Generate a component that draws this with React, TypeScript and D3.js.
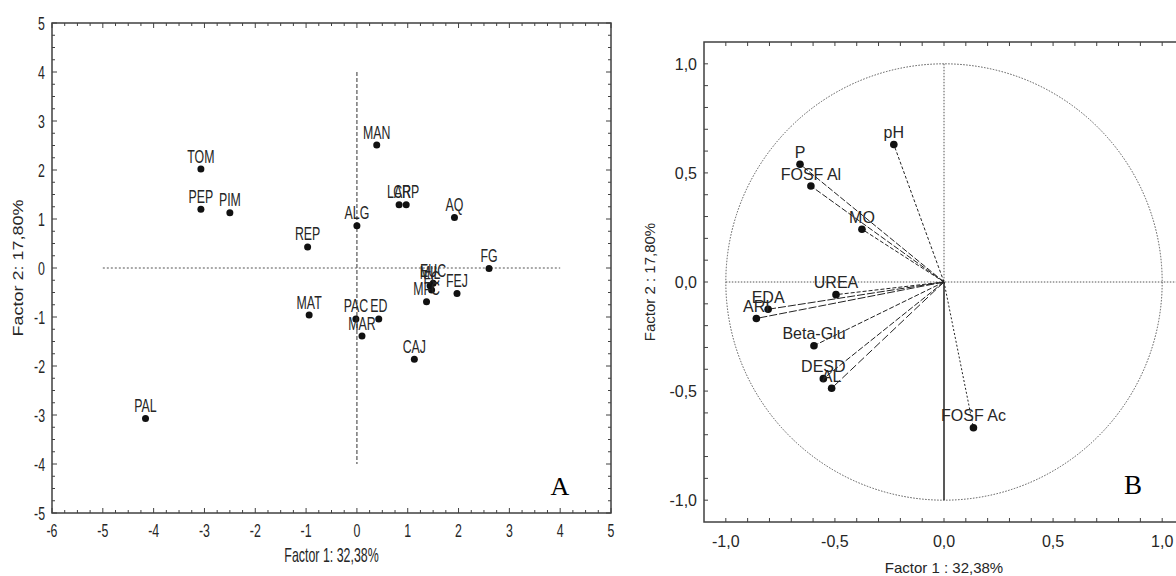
import React from "react";
import * as d3 from "d3";

// ---- Panel A data (scores) ----
const scoreLabels = ["TOM", "PEP", "PIM", "REP", "ALG", "MAN", "LAR", "CRP", "AQ", "FG", "EUC", "MIL", "FC", "MFC", "FEJ", "MAT", "PAC", "ED", "MAR", "CAJ", "PAL"];
const scoreF1 = [-3.07, -3.07, -2.5, -0.97, 0.0, 0.39, 0.83, 0.97, 1.92, 2.6, 1.5, 1.44, 1.47, 1.37, 1.97, -0.94, -0.02, 0.43, 0.1, 1.13, -4.16];
const scoreF2 = [2.02, 1.2, 1.13, 0.43, 0.86, 2.51, 1.29, 1.29, 1.03, -0.01, -0.31, -0.36, -0.45, -0.69, -0.52, -0.96, -1.04, -1.04, -1.39, -1.86, -3.07];
const aXTicks = [-6, -5, -4, -3, -2, -1, 0, 1, 2, 3, 4, 5];
const aYTicks = [5, 4, 3, 2, 1, 0, -1, -2, -3, -4, -5];

// ---- Panel B data (loadings) ----
const varLabels = ["pH", "P", "FOSF Al", "MO", "UREA", "EDA", "ARI", "Beta-Glu", "DESD", "AL", "FOSF Ac"];
const varF1 = [-0.23, -0.66, -0.61, -0.376, -0.495, -0.806, -0.86, -0.596, -0.553, -0.515, 0.135];
const varF2 = [0.63, 0.54, 0.44, 0.242, -0.058, -0.125, -0.167, -0.292, -0.443, -0.487, -0.668];
const bTicks = [-1.0, -0.5, 0.0, 0.5, 1.0];
const bTickText = ["-1,0", "-0,5", "0,0", "0,5", "1,0"];

const vecDash = ["3,2", "6,2", "6,2", "4,2", "4,2", "8,2", "8,2", "5,2", "6,2", "8,3", "2,2"];

const TXT = "#262626";
const LINE = "#404040";

function SqText({ x, y, size, anchor, children, sx = 0.65 }: any) {
  return (
    <text
      transform={`translate(${x},${y}) scale(${sx},1)`}
      fontFamily="'Liberation Sans', Arial, sans-serif"
      fontSize={size}
      fill={TXT}
      textAnchor={anchor || "middle"}
    >
      {children}
    </text>
  );
}

function PanelA() {
  const x = d3.scaleLinear().domain([-6, 5]).range([52, 611]);
  const y = d3.scaleLinear().domain([-5, 5]).range([513, 23]);
  const minorX = d3.range(-6, 5.001, 0.25);
  const minorY = d3.range(-5, 5.001, 0.25);
  const [x0, x1] = x.range();
  const [y0, y1] = y.range();
  return (
    <g>
      {minorX.map((v, i) => {
        const major = Math.abs(v - Math.round(v)) < 1e-6;
        const L = major ? 5 : 3;
        return (
          <g key={"tx" + i} stroke={LINE} strokeWidth={1}>
            <line x1={x(v)} x2={x(v)} y1={y0} y2={y0 - L} />
            <line x1={x(v)} x2={x(v)} y1={y1} y2={y1 + L} />
          </g>
        );
      })}
      {minorY.map((v, i) => {
        const major = Math.abs(v - Math.round(v)) < 1e-6;
        const L = major ? 5 : 3;
        return (
          <g key={"ty" + i} stroke={LINE} strokeWidth={1}>
            <line x1={x0} x2={x0 + L} y1={y(v)} y2={y(v)} />
            <line x1={x1} x2={x1 - L} y1={y(v)} y2={y(v)} />
          </g>
        );
      })}
      <rect x={x0} y={y1} width={x1 - x0} height={y0 - y1} fill="none" stroke={LINE} strokeWidth={1.5} />
      <line x1={x(-5)} x2={x(4)} y1={y(0)} y2={y(0)} stroke="#555" strokeWidth={1.2} strokeDasharray="2,2" />
      <line x1={x(0)} x2={x(0)} y1={y(4)} y2={y(-4)} stroke="#555" strokeWidth={1.2} strokeDasharray="4,2" />
      {aXTicks.map((v) => (
        <SqText key={"xl" + v} x={x(v)} y={537} size={19}>
          {String(v)}
        </SqText>
      ))}
      {aYTicks.map((v) => (
        <SqText key={"yl" + v} x={45} y={y(v) + 7} size={19} anchor="end">
          {String(v)}
        </SqText>
      ))}
      {scoreLabels.map((lab, i) => (
        <g key={"p" + i}>
          <circle cx={x(scoreF1[i])} cy={y(scoreF2[i])} r={3.5} fill="#111" />
          <SqText x={x(scoreF1[i])} y={y(scoreF2[i]) - 6.5} size={19}>
            {lab}
          </SqText>
        </g>
      ))}
      <SqText x={(x0 + x1) / 2} y={562} size={20} sx={0.62}>
        Factor 1: 32,38%
      </SqText>
      <text
        transform={`translate(23,${y(0)}) rotate(-90) scale(1,0.8)`}
        fontFamily="'Liberation Sans', Arial, sans-serif"
        fontSize={18}
        fill={TXT}
        textAnchor="middle"
      >
        Factor 2: 17,80%
      </text>
      <text x={560} y={495} fontFamily="'Liberation Serif', 'Times New Roman', serif" fontSize={26} textAnchor="middle" fill="#000">
        A
      </text>
    </g>
  );
}

function PanelB() {
  const x = d3.scaleLinear().domain([-1.1, 1.1]).range([704, 1184]);
  const y = d3.scaleLinear().domain([-1.1, 1.1]).range([522, 42]);
  const minor = d3.range(-10, 11).map((k) => k / 10);
  const [x0, x1] = x.range();
  const [y0, y1] = y.range();
  const r = x(1) - x(0);
  const ry = y(0) - y(1);
  return (
    <g>
      {minor.map((v, i) => (
        <g key={"bt" + i} stroke={LINE} strokeWidth={1}>
          <line x1={x(v)} x2={x(v)} y1={y0} y2={y0 - 4} />
          <line x1={x(v)} x2={x(v)} y1={y1} y2={y1 + 4} />
          <line x1={x0} x2={x0 + 4} y1={y(v)} y2={y(v)} />
          <line x1={x1} x2={x1 - 4} y1={y(v)} y2={y(v)} />
        </g>
      ))}
      <rect x={x0} y={y1} width={x1 - x0} height={y0 - y1} fill="none" stroke={LINE} strokeWidth={1.5} />
      <ellipse cx={x(0)} cy={y(0)} rx={r} ry={ry} fill="none" stroke="#555" strokeWidth={1} strokeDasharray="1.5,1.5" />
      <line x1={x(-1)} x2={x1} y1={y(0)} y2={y(0)} stroke="#555" strokeWidth={1} strokeDasharray="1.5,1.5" />
      <line x1={x(0)} x2={x(0)} y1={y(1)} y2={y(0)} stroke="#555" strokeWidth={1} strokeDasharray="1.5,1.5" />
      <line x1={x(0)} x2={x(0)} y1={y(0)} y2={y(-1)} stroke="#222" strokeWidth={1.5} />
      {varLabels.map((lab, i) => (
        <line
          key={"v" + i}
          x1={x(0)}
          y1={y(0)}
          x2={x(varF1[i])}
          y2={y(varF2[i])}
          stroke="#222"
          strokeWidth={1}
          strokeDasharray={vecDash[i]}
        />
      ))}
      {varLabels.map((lab, i) => (
        <g key={"vp" + i}>
          <circle cx={x(varF1[i])} cy={y(varF2[i])} r={3.8} fill="#111" />
          <text
            x={x(varF1[i])}
            y={y(varF2[i]) - 6.5}
            fontFamily="'Liberation Sans', Arial, sans-serif"
            fontSize={16}
            fill={TXT}
            textAnchor="middle"
          >
            {lab}
          </text>
        </g>
      ))}
      {bTicks.map((v, i) => (
        <text key={"bx" + i} x={x(v)} y={547} fontFamily="'Liberation Sans', Arial, sans-serif" fontSize={16} fill={TXT} textAnchor="middle">
          {bTickText[i]}
        </text>
      ))}
      {bTicks.map((v, i) => (
        <text key={"by" + i} x={697} y={y(v) + 6} fontFamily="'Liberation Sans', Arial, sans-serif" fontSize={16} fill={TXT} textAnchor="end">
          {bTickText[i]}
        </text>
      ))}
      <text x={944} y={573} fontFamily="'Liberation Sans', Arial, sans-serif" fontSize={15} fill={TXT} textAnchor="middle">
        Factor 1 : 32,38%
      </text>
      <text
        transform={`translate(655,${y(0)}) rotate(-90)`}
        fontFamily="'Liberation Sans', Arial, sans-serif"
        fontSize={15}
        fill={TXT}
        textAnchor="middle"
      >
        Factor 2 : 17,80%
      </text>
      <text x={1133} y={494} fontFamily="'Liberation Serif', 'Times New Roman', serif" fontSize={27} textAnchor="middle" fill="#000">
        B
      </text>
    </g>
  );
}

export default function App() {
  return (
    <svg
      width={1176}
      height={576}
      viewBox="0 0 1176 576"
      style={{ position: "absolute", left: 0, top: 0, background: "#fff" }}
    >
      <rect width={1176} height={576} fill="#fff" />
      <PanelA />
      <PanelB />
    </svg>
  );
}
